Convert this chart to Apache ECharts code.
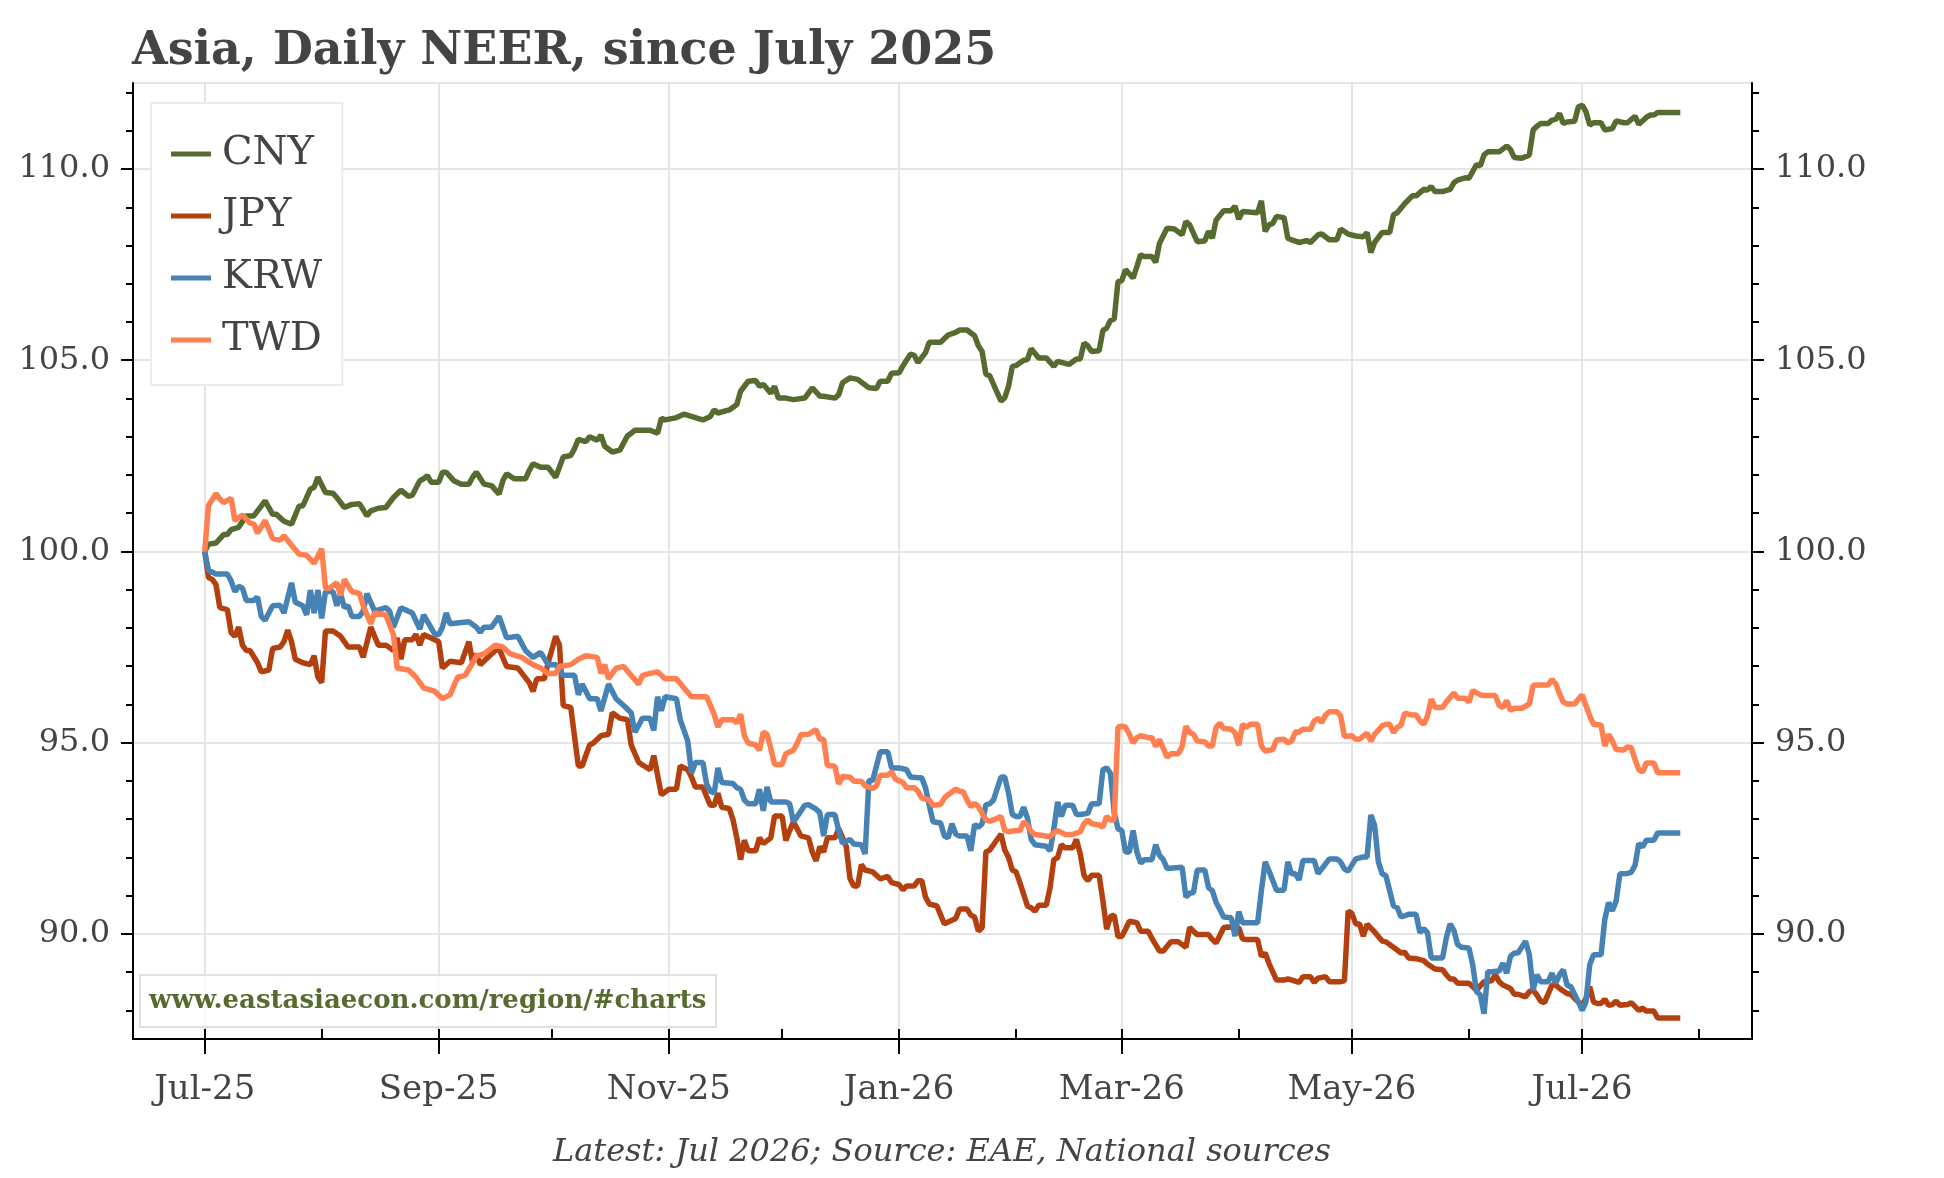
<!DOCTYPE html>
<html>
<head>
<meta charset="utf-8">
<title>Asia, Daily NEER</title>
<script src="https://cdn.jsdelivr.net/npm/echarts@6/dist/echarts.min.js"></script>
<style>
  html, body { margin: 0; padding: 0; background: #fff; }
  #chart { width: 1944px; height: 1178px; }
</style>
</head>
<body>
<div id="chart"></div>
<script>
// NEER index, Jul 1 2025 = 100. x = days since 2025-07-01
var seriesNames = ['CNY', 'JPY', 'KRW', 'TWD'];
var seriesColors = ['#556b2f', '#b5400f', '#4682b4', '#ff7f50'];

var cny = [[0,100.00],[1,100.19],[3,100.22],[5,100.44],[6,100.44],[7,100.57],[9,100.63],[11,100.93],[13,100.93],[14,101.06],[16,101.32],[18,100.97],[19,100.97],[21,100.79],[23,100.71],[25,101.19],[26,101.19],[28,101.63],[29,101.68],[30,101.94],[32,101.54],[34,101.52],[35,101.41],[37,101.15],[39,101.23],[41,101.25],[43,100.93],[44,101.06],[46,101.13],[48,101.15],[50,101.41],[52,101.60],[54,101.44],[55,101.47],[57,101.85],[58,101.90],[59,101.98],[60,101.81],[62,101.81],[63,102.07],[64,102.07],[66,101.85],[68,101.76],[70,101.76],[71,101.94],[72,102.07],[74,101.76],[76,101.72],[78,101.50],[79,101.85],[80,102.03],[82,101.90],[85,101.90],[86,102.12],[87,102.29],[89,102.20],[91,102.20],[92,102.07],[93,101.94],[95,102.47],[97,102.51],[98,102.69],[99,102.93],[101,102.87],[102,103.00],[104,102.91],[105,103.04],[106,102.75],[108,102.60],[110,102.65],[112,103.02],[113,103.09],[114,103.17],[118,103.17],[120,103.09],[121,103.48],[122,103.44],[125,103.50],[127,103.59],[130,103.50],[132,103.44],[134,103.53],[135,103.70],[136,103.62],[139,103.70],[141,103.84],[142,104.19],[144,104.45],[146,104.47],[147,104.32],[148,104.37],[150,104.14],[151,104.32],[152,104.01],[154,104.01],[156,103.97],[159,104.01],[161,104.28],[163,104.06],[164,104.06],[167,104.01],[168,104.10],[169,104.41],[171,104.54],[173,104.50],[176,104.28],[178,104.26],[179,104.45],[181,104.45],[182,104.66],[184,104.67],[185,104.85],[187,105.16],[188,105.13],[189,104.94],[191,105.20],[192,105.47],[195,105.47],[197,105.66],[199,105.73],[200,105.79],[202,105.79],[204,105.64],[205,105.38],[206,105.23],[207,104.63],[208,104.60],[210,104.15],[211,103.93],[212,104.02],[213,104.32],[214,104.84],[215,104.86],[217,105.00],[218,105.02],[219,105.30],[221,105.06],[223,105.06],[225,104.84],[226,104.97],[229,104.89],[231,105.03],[232,105.03],[233,105.45],[234,105.38],[235,105.23],[237,105.25],[238,105.78],[239,105.84],[240,106.04],[241,106.08],[242,107.06],[243,107.08],[244,107.37],[246,107.15],[247,107.45],[248,107.76],[249,107.71],[251,107.71],[252,107.56],[253,108.06],[255,108.45],[257,108.43],[259,108.28],[260,108.63],[261,108.54],[263,108.10],[265,108.12],[266,108.37],[267,108.19],[268,108.67],[270,108.91],[272,108.91],[273,109.03],[274,108.69],[275,108.89],[279,108.86],[280,109.17],[281,108.37],[282,108.54],[283,108.58],[284,108.76],[286,108.73],[287,108.19],[288,108.15],[290,108.08],[292,108.13],[293,108.08],[295,108.28],[296,108.30],[298,108.15],[300,108.15],[301,108.43],[303,108.30],[305,108.25],[307,108.23],[308,108.34],[309,107.82],[310,108.08],[312,108.34],[314,108.34],[315,108.80],[316,108.86],[318,109.10],[320,109.30],[321,109.30],[323,109.47],[324,109.45],[325,109.54],[326,109.41],[328,109.41],[330,109.47],[331,109.64],[332,109.71],[334,109.77],[335,109.76],[337,110.12],[338,110.08],[339,110.37],[340,110.45],[343,110.45],[345,110.60],[346,110.51],[347,110.30],[349,110.28],[351,110.37],[352,111.02],[353,111.12],[354,111.19],[356,111.19],[357,111.28],[358,111.30],[359,111.45],[360,111.19],[361,111.23],[363,111.25],[364,111.63],[365,111.67],[366,111.50],[367,111.15],[368,111.21],[370,111.21],[371,111.02],[373,111.06],[374,111.26],[376,111.21],[377,111.21],[379,111.38],[380,111.17],[382,111.35],[383,111.41],[384,111.41],[385,111.48],[391,111.48]];

var jpy = [[0,100.00],[1,99.32],[2,99.27],[3,99.13],[4,98.53],[6,98.48],[7,97.88],[8,97.78],[9,98.02],[10,97.55],[11,97.41],[12,97.41],[14,97.09],[15,96.85],[17,96.90],[18,97.46],[20,97.50],[21,97.64],[22,97.94],[23,97.64],[24,97.18],[26,97.09],[28,97.04],[29,97.27],[30,96.71],[31,96.57],[32,97.92],[34,97.92],[36,97.78],[38,97.50],[41,97.50],[42,97.23],[44,98.02],[46,97.55],[48,97.55],[50,97.41],[51,97.74],[52,97.18],[53,97.69],[55,97.69],[56,97.83],[57,97.55],[58,97.83],[61,97.69],[62,97.64],[63,96.95],[65,97.13],[68,97.09],[70,97.64],[71,97.09],[72,97.32],[73,97.04],[77,97.41],[78,97.46],[80,96.99],[83,96.95],[86,96.57],[87,96.34],[88,96.67],[90,96.67],[91,97.09],[93,97.78],[94,97.55],[95,95.97],[97,95.92],[99,94.39],[100,94.39],[102,94.94],[103,94.99],[105,95.18],[107,95.22],[108,95.78],[110,95.64],[112,95.60],[113,94.94],[115,94.48],[118,94.29],[119,94.66],[121,93.64],[123,93.78],[125,93.78],[126,94.39],[128,94.29],[129,94.10],[130,93.84],[132,93.84],[133,93.59],[134,93.36],[135,93.36],[136,93.68],[137,93.31],[139,93.28],[140,92.98],[141,92.51],[142,91.94],[143,92.45],[144,92.17],[146,92.17],[147,92.51],[148,92.36],[150,92.51],[151,93.08],[153,93.08],[154,92.44],[155,92.70],[156,92.93],[158,92.56],[160,92.51],[161,92.14],[162,91.91],[163,92.28],[164,92.14],[165,92.51],[167,92.51],[168,92.75],[170,92.28],[171,91.44],[172,91.25],[173,91.25],[174,91.81],[175,91.67],[177,91.62],[179,91.44],[181,91.50],[182,91.34],[184,91.29],[185,91.15],[186,91.25],[188,91.25],[189,91.39],[190,91.39],[191,90.96],[192,90.78],[194,90.73],[196,90.26],[197,90.31],[199,90.40],[200,90.65],[202,90.65],[203,90.49],[204,90.44],[205,90.07],[206,90.16],[207,92.14],[208,92.19],[209,92.33],[211,92.61],[212,92.19],[213,92.00],[214,91.67],[215,91.62],[216,91.34],[218,90.73],[219,90.68],[220,90.59],[221,90.75],[223,90.75],[224,91.20],[225,91.94],[226,91.99],[227,92.33],[228,92.25],[230,92.25],[231,92.47],[232,92.09],[233,91.53],[234,91.39],[235,91.53],[237,91.53],[238,90.87],[239,90.12],[240,90.45],[241,90.49],[242,89.93],[243,89.93],[244,90.12],[245,90.33],[247,90.29],[248,90.07],[250,90.07],[251,89.88],[253,89.55],[254,89.55],[256,89.79],[258,89.79],[260,89.65],[261,90.17],[262,90.07],[263,89.98],[266,89.98],[267,89.85],[268,89.76],[270,90.16],[271,90.18],[274,90.16],[275,89.87],[276,89.85],[279,89.85],[280,89.41],[281,89.50],[282,89.23],[284,88.79],[286,88.79],[287,88.82],[290,88.73],[291,88.88],[293,88.88],[294,88.73],[295,88.84],[297,88.88],[298,88.75],[301,88.75],[302,88.77],[303,90.60],[304,90.53],[305,90.26],[306,90.26],[307,89.94],[308,90.25],[310,90.05],[312,89.81],[313,89.79],[315,89.65],[317,89.50],[318,89.52],[319,89.37],[321,89.35],[323,89.30],[324,89.21],[326,89.08],[328,89.06],[329,88.93],[330,88.82],[331,88.82],[332,88.71],[335,88.71],[336,88.62],[337,88.53],[339,88.75],[341,88.77],[342,88.93],[343,88.75],[344,88.66],[346,88.57],[347,88.42],[348,88.42],[350,88.35],[351,88.49],[352,88.53],[353,88.40],[354,88.24],[355,88.20],[357,88.66],[358,88.66],[359,88.57],[361,88.44],[362,88.42],[363,88.31],[365,88.13],[366,88.31],[367,88.62],[368,88.22],[369,88.18],[370,88.18],[371,88.29],[372,88.13],[373,88.15],[374,88.24],[375,88.13],[377,88.15],[378,88.20],[380,88.00],[381,88.06],[382,87.98],[384,87.98],[385,87.80],[391,87.80]];

var krw = [[0,100.00],[1,99.51],[3,99.41],[6,99.41],[7,99.23],[8,98.95],[9,99.09],[10,99.04],[11,98.72],[13,98.72],[14,98.81],[15,98.30],[16,98.20],[18,98.58],[20,98.59],[21,98.39],[23,99.18],[24,98.67],[26,98.58],[27,98.34],[28,98.99],[29,98.39],[30,98.99],[31,98.25],[32,98.95],[34,98.95],[35,98.58],[36,98.90],[37,98.53],[38,98.58],[39,98.30],[41,98.30],[42,98.44],[43,98.90],[45,98.44],[48,98.53],[49,98.44],[50,98.02],[52,98.53],[55,98.39],[57,97.97],[58,98.34],[61,97.83],[62,97.83],[63,98.02],[64,98.39],[65,98.11],[70,98.16],[72,98.02],[73,97.88],[74,98.02],[76,98.02],[78,98.30],[80,97.74],[83,97.78],[85,97.41],[87,97.23],[89,97.36],[91,97.04],[93,97.04],[95,96.76],[98,96.76],[99,96.25],[100,96.53],[102,96.15],[104,96.15],[105,95.83],[107,96.53],[109,96.15],[111,95.97],[113,95.78],[114,95.27],[116,95.64],[118,95.64],[119,95.32],[120,96.20],[121,95.83],[122,96.20],[125,96.15],[126,95.60],[128,95.04],[129,94.20],[130,94.48],[132,94.48],[133,93.92],[134,93.73],[135,93.68],[136,94.34],[137,93.96],[140,93.93],[141,93.82],[142,93.78],[143,93.50],[144,93.40],[146,93.40],[147,93.78],[148,93.22],[149,93.84],[150,93.45],[154,93.45],[155,93.40],[156,92.93],[157,93.07],[159,93.36],[160,93.38],[162,93.26],[163,93.17],[164,92.56],[165,93.12],[167,93.12],[168,92.70],[169,92.37],[171,92.47],[172,92.35],[174,92.33],[175,92.09],[176,94.01],[177,94.01],[179,94.76],[181,94.76],[182,94.34],[184,94.34],[186,94.29],[187,94.10],[189,94.08],[190,94.08],[191,93.82],[192,93.36],[193,92.93],[195,92.90],[196,92.56],[197,92.51],[198,92.88],[199,92.61],[200,92.56],[202,92.56],[203,92.17],[204,92.86],[205,92.79],[206,92.88],[207,93.38],[208,93.40],[209,93.50],[211,94.10],[212,94.10],[213,93.68],[214,93.12],[215,93.07],[216,93.07],[217,93.31],[218,93.03],[219,92.47],[220,92.33],[223,92.29],[224,92.17],[225,92.74],[226,93.45],[227,93.07],[228,93.36],[230,93.36],[231,93.12],[232,93.12],[234,93.15],[235,93.40],[237,93.40],[238,94.29],[239,94.34],[240,94.20],[241,93.17],[242,92.75],[243,92.70],[244,92.14],[245,92.14],[246,92.70],[247,92.14],[248,91.85],[249,91.94],[251,91.94],[252,92.33],[253,92.05],[254,91.94],[255,91.71],[259,91.74],[260,90.96],[261,91.06],[262,91.08],[263,91.67],[265,91.67],[266,91.21],[267,91.13],[268,90.82],[269,90.64],[270,90.44],[272,90.42],[273,89.94],[274,90.58],[275,90.29],[279,90.29],[280,91.13],[281,91.88],[282,91.65],[284,91.14],[286,91.14],[287,91.88],[288,91.57],[289,91.57],[290,91.41],[291,91.92],[294,91.92],[295,91.58],[296,91.70],[298,91.96],[300,91.96],[301,91.88],[302,91.70],[303,91.64],[305,91.96],[307,92.01],[308,92.01],[309,93.11],[310,92.84],[311,91.88],[312,91.57],[313,91.52],[315,90.73],[316,90.69],[317,90.44],[319,90.51],[321,90.51],[322,90.03],[323,90.14],[324,90.03],[325,89.37],[328,89.37],[329,89.89],[330,90.26],[331,90.09],[332,89.72],[333,89.65],[335,89.63],[336,89.19],[337,88.49],[338,88.40],[339,87.91],[340,89.01],[341,89.01],[343,89.03],[344,89.23],[345,88.97],[346,89.41],[347,89.50],[348,89.50],[350,89.81],[351,89.45],[352,88.53],[353,88.93],[354,88.75],[356,88.75],[357,88.97],[358,88.71],[359,88.93],[360,89.06],[361,88.66],[362,88.62],[364,88.22],[365,88.00],[366,88.22],[367,89.19],[368,89.45],[370,89.45],[371,90.38],[372,90.82],[373,90.60],[374,90.86],[375,91.57],[377,91.58],[378,91.61],[379,91.79],[380,92.36],[381,92.27],[382,92.45],[384,92.45],[385,92.64],[391,92.64]];

var twd = [[0,100.00],[1,101.20],[3,101.51],[4,101.37],[5,101.28],[7,101.39],[8,100.81],[10,100.95],[12,100.74],[13,100.72],[14,100.48],[16,100.81],[18,100.34],[20,100.30],[21,100.41],[23,100.16],[25,99.93],[27,99.90],[29,99.69],[31,100.07],[32,99.04],[33,99.04],[35,99.18],[36,98.85],[37,99.27],[39,98.95],[41,98.90],[42,98.58],[44,98.11],[45,98.39],[48,98.34],[50,97.83],[51,96.95],[54,96.90],[56,96.71],[58,96.43],[61,96.34],[63,96.15],[65,96.25],[67,96.71],[69,96.76],[71,97.09],[72,97.27],[74,97.32],[77,97.55],[79,97.50],[81,97.32],[84,97.23],[87,97.04],[89,96.95],[91,96.81],[93,96.81],[94,96.99],[97,97.04],[99,97.18],[101,97.27],[104,97.23],[105,96.81],[106,97.04],[107,96.67],[109,96.95],[111,96.99],[113,96.76],[115,96.53],[116,96.76],[118,96.81],[120,96.85],[122,96.67],[125,96.67],[127,96.43],[129,96.20],[133,96.20],[134,95.97],[135,95.74],[136,95.41],[137,95.60],[140,95.60],[141,95.52],[142,95.74],[143,95.18],[144,94.99],[146,94.94],[147,94.80],[148,95.27],[149,95.22],[150,94.85],[151,94.43],[153,94.43],[154,94.71],[156,94.80],[157,94.99],[158,95.21],[160,95.22],[162,95.34],[163,95.09],[164,95.09],[165,94.40],[167,94.38],[168,93.92],[169,94.12],[170,94.10],[171,94.10],[172,93.99],[174,93.99],[175,93.87],[177,93.80],[178,93.87],[179,94.15],[181,94.15],[182,94.24],[183,94.05],[185,93.96],[186,93.82],[188,93.82],[189,93.73],[190,93.55],[192,93.50],[193,93.36],[195,93.39],[196,93.55],[197,93.64],[199,93.78],[200,93.73],[201,93.71],[202,93.50],[203,93.33],[204,93.41],[205,93.33],[207,92.98],[208,92.95],[209,92.98],[211,93.07],[212,92.70],[213,92.67],[215,92.70],[216,92.70],[217,92.93],[218,92.84],[219,92.67],[220,92.60],[222,92.57],[224,92.54],[225,92.65],[226,92.70],[228,92.60],[230,92.60],[232,92.67],[233,92.88],[234,92.98],[235,92.88],[237,92.85],[238,92.79],[239,93.07],[240,92.98],[241,92.98],[242,95.41],[243,95.43],[244,95.41],[245,95.22],[246,94.99],[247,95.13],[248,95.18],[250,95.13],[251,95.13],[252,94.90],[253,95.08],[255,94.62],[256,94.71],[258,94.71],[259,94.90],[260,95.43],[261,95.27],[262,95.22],[263,95.04],[265,95.02],[266,94.91],[267,94.91],[268,95.40],[269,95.51],[270,95.37],[272,95.35],[273,95.26],[274,94.93],[275,95.48],[276,95.40],[277,95.48],[279,95.48],[280,94.91],[281,94.78],[283,94.82],[284,95.07],[286,95.09],[287,95.00],[288,95.04],[289,95.28],[290,95.28],[291,95.35],[293,95.35],[294,95.57],[295,95.63],[296,95.53],[297,95.72],[298,95.81],[300,95.81],[301,95.70],[302,95.16],[304,95.18],[305,95.09],[306,95.09],[308,95.25],[309,95.04],[310,95.22],[312,95.44],[313,95.48],[314,95.48],[315,95.26],[316,95.40],[317,95.46],[318,95.77],[320,95.72],[321,95.72],[322,95.57],[323,95.48],[324,95.69],[325,96.14],[326,95.92],[328,95.92],[329,96.06],[331,96.30],[332,96.16],[334,96.16],[335,96.06],[336,96.36],[338,96.25],[339,96.23],[342,96.23],[343,95.97],[344,95.92],[345,96.10],[346,95.84],[347,95.90],[349,95.90],[351,96.01],[352,96.50],[354,96.51],[356,96.51],[357,96.65],[358,96.54],[359,96.28],[360,96.06],[361,96.01],[363,96.01],[364,96.14],[365,96.25],[366,95.97],[367,95.70],[368,95.48],[370,95.46],[371,94.91],[372,95.22],[373,95.04],[374,94.82],[376,94.81],[377,94.89],[378,94.87],[379,94.56],[380,94.30],[381,94.23],[382,94.47],[384,94.47],[385,94.21],[391,94.21]];

var seriesData = [cny, jpy, krw, twd];

// axis range: x in days (2025-06-12 .. 2026-08-15), y in index points
var xMin = -19, xMax = 410;
var yMin = 87.25, yMax = 112.25;
var monthNames = ['Jan', 'Feb', 'Mar', 'Apr', 'May', 'Jun', 'Jul', 'Aug', 'Sep', 'Oct', 'Nov', 'Dec'];

var font = "'DejaVu Serif', serif";
var textColor = '#444';
var gridColor = '#e5e5e5';

// calendar days along the x axis, used only for ticks / labels / grid lines
var dayCats = [];
var axisStart = Date.UTC(2025, 6, 1 + xMin);
for (var i = 0; i <= xMax - xMin; i++) {
  dayCats.push(new Date(axisStart + i * 86400000).toISOString().slice(0, 10));
}
// 0.25-point steps along the y axis, used only for ticks / labels / grid lines
var yCats = [];
for (var k = 0; k <= Math.round((yMax - yMin) / 0.25); k++) {
  yCats.push((yMin + k * 0.25).toFixed(2));
}

function isMonthStart(idx, val) { return val.slice(8) === '01'; }
function isOddMonthStart(idx, val) { return val.slice(8) === '01' && (+val.slice(5, 7)) % 2 === 1; }
function monthLabel(val) { return monthNames[+val.slice(5, 7) - 1] + '-' + val.slice(2, 4); }
function yEvery(step) {
  return function (idx, val) {
    var q = Number(val) / step;
    return Math.abs(q - Math.round(q)) < 1e-6;
  };
}

function yTickAxis(pos, major) {
  return {
    type: 'category', data: yCats, boundaryGap: false, position: pos,
    axisLine: { show: major, lineStyle: { color: '#000', width: 2 } },
    axisTick: { show: true, interval: major ? yEvery(5) : yEvery(1), length: major ? 12 : 7, lineStyle: { color: '#000', width: 2 } },
    axisLabel: {
      show: major, interval: yEvery(5), margin: 23,
      fontFamily: font, fontSize: 32, color: textColor,
      formatter: function (v) { return Number(v).toFixed(1); }
    },
    splitLine: { show: major && pos === 'left', interval: yEvery(5), lineStyle: { color: gridColor, width: 2 } }
  };
}

var chart = echarts.init(document.getElementById('chart'), null, { renderer: 'canvas' });

var option = {
  animation: false,
  backgroundColor: '#fff',
  title: [
    {
      text: 'Asia, Daily NEER, since July 2025',
      left: 132, top: 29, padding: 0,
      textStyle: { fontFamily: font, fontWeight: 'bold', fontSize: 46, color: textColor }
    },
    {
      text: 'www.eastasiaecon.com/region/#charts',
      left: 140, top: 975,
      padding: [13, 10, 13, 9],
      backgroundColor: 'rgba(255,255,255,0.75)',
      borderColor: '#e2e2e2', borderWidth: 2,
      textStyle: { fontFamily: font, fontWeight: 'bold', fontSize: 26, color: '#556b2f' }
    }
  ],
  legend: {
    data: seriesNames,
    orient: 'vertical',
    left: 151, top: 103,
    padding: [31, 20, 25, 20],
    itemGap: 22,
    icon: 'rect',
    itemWidth: 40, itemHeight: 5,
    backgroundColor: '#fff',
    borderColor: '#ebebeb', borderWidth: 2,
    textStyle: { fontFamily: font, fontSize: 40, color: textColor, lineHeight: 40, padding: [0, 0, 0, 6] }
  },
  grid: {
    left: 133, right: 192, top: 83, bottom: 139,
    containLabel: false, outerBoundsMode: 'none',
    show: true, borderColor: gridColor, borderWidth: 2
  },
  xAxis: [
    { type: 'value', min: xMin, max: xMax, show: false },
    {
      type: 'category', data: dayCats, boundaryGap: false, position: 'bottom',
      axisLine: { lineStyle: { color: '#000', width: 2 } },
      axisTick: { interval: isOddMonthStart, length: 15, lineStyle: { color: '#000', width: 2 } },
      axisLabel: {
        interval: isOddMonthStart, formatter: monthLabel, margin: 34,
        fontFamily: font, fontSize: 34, color: textColor
      },
      splitLine: { show: true, interval: isOddMonthStart, lineStyle: { color: gridColor, width: 2 } }
    },
    {
      type: 'category', data: dayCats, boundaryGap: false, position: 'bottom',
      axisLine: { show: false },
      axisTick: { interval: isMonthStart, inside: true, length: 10, lineStyle: { color: '#000', width: 2 } },
      axisLabel: { show: false },
      splitLine: { show: false }
    }
  ],
  yAxis: [
    { type: 'value', min: yMin, max: yMax, show: false },
    yTickAxis('left', true),
    yTickAxis('left', false),
    yTickAxis('right', true),
    yTickAxis('right', false)
  ],
  graphic: [
    {
      type: 'text', x: 942, y: 1153,
      style: {
        text: 'Latest: Jul 2026; Source: EAE, National sources',
        font: 'italic 32px ' + font, fill: textColor,
        textAlign: 'center', textVerticalAlign: 'middle'
      }
    }
  ],
  series: seriesNames.map(function (name, i) {
    return {
      name: name,
      type: 'line',
      xAxisIndex: 0,
      yAxisIndex: 0,
      data: seriesData[i],
      showSymbol: false,
      symbol: 'none',
      lineStyle: { width: 5.5, color: seriesColors[i] },
      itemStyle: { color: seriesColors[i] },
      emphasis: { disabled: true }
    };
  })
};

chart.setOption(option);
</script>
</body>
</html>
